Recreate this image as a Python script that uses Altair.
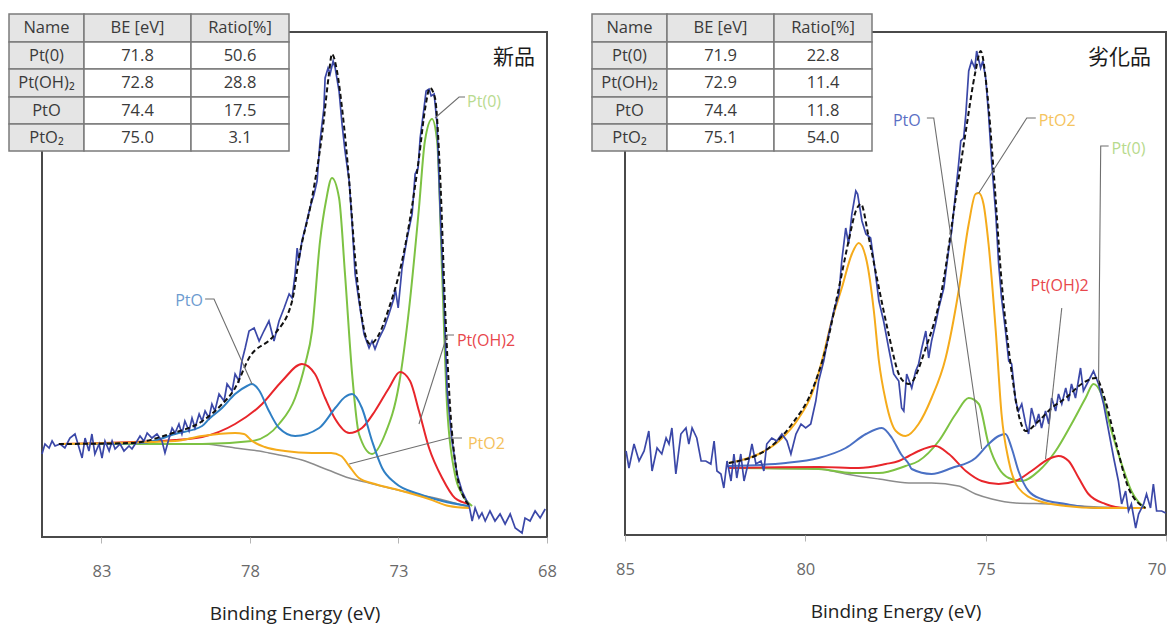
import altair as alt
import pandas as pd

# ---------------- table values ----------------
TABLE_HEADERS = ["Name", "BE [eV]", "Ratio[%]"]
SPECIES = ["Pt(0)", "Pt(OH)₂", "PtO", "PtO₂"]
NEW_BE = [71.8, 72.8, 74.4, 75.0]
NEW_RATIO = [50.6, 28.8, 17.5, 3.1]
OLD_BE = [71.9, 72.9, 74.4, 75.1]
OLD_RATIO = [22.8, 11.4, 11.8, 54.0]

NEW_TICKS = [83, 78, 73, 68]
OLD_TICKS = [85, 80, 75, 70]

# ---------------- 新品 (fresh) : (binding energy eV, intensity a.u.) ----------------
NEW_RAW = [
    (85.00, 84), (84.90, 94), (84.76, 90), (84.66, 97), (84.56, 92), (84.39, 94), (84.23, 90), (84.06, 100), (83.89, 104), (83.75, 90),
    (83.65, 80), (83.55, 100), (83.42, 87), (83.32, 104), (83.22, 84), (83.08, 94), (82.98, 80), (82.88, 97), (82.74, 87), (82.64, 97),
    (82.54, 89), (82.37, 94), (82.24, 87), (82.07, 92), (81.97, 89), (81.80, 97), (81.70, 102), (81.57, 97), (81.46, 105), (81.30, 100),
    (81.13, 104), (80.96, 97), (80.86, 85), (80.72, 100), (80.62, 110), (80.52, 105), (80.39, 114), (80.29, 104), (80.19, 117), (80.05, 107),
    (79.95, 120), (79.85, 110), (79.71, 124), (79.61, 117), (79.51, 127), (79.38, 120), (79.28, 134), (79.18, 127), (79.04, 144), (78.87, 137),
    (78.77, 154), (78.60, 147), (78.50, 164), (78.37, 157), (78.27, 177), (78.16, 190), (78.03, 207), (77.86, 210), (77.69, 197), (77.53, 207),
    (77.36, 217), (77.19, 197), (77.02, 217), (76.85, 230), (76.68, 244), (76.58, 240), (76.48, 264), (76.41, 290), (76.35, 277), (76.25, 297),
    (76.14, 310), (75.98, 330), (75.84, 344), (75.74, 357), (75.64, 397), (75.51, 430), (75.47, 460), (75.37, 470), (75.30, 464), (75.20, 477),
    (75.13, 470), (75.00, 447), (74.90, 414), (74.80, 387), (74.66, 357), (74.56, 314), (74.46, 264), (74.33, 237), (74.16, 204), (73.99, 190),
    (73.89, 197), (73.79, 189), (73.65, 200), (73.48, 210), (73.32, 224), (73.15, 240), (73.11, 250), (73.01, 230), (72.88, 270), (72.71, 300),
    (72.54, 324), (72.44, 364), (72.34, 370), (72.27, 400), (72.14, 430), (72.07, 447), (71.97, 449), (71.90, 442), (71.80, 444), (71.70, 414),
    (71.60, 330), (71.46, 230), (71.36, 147), (71.20, 97), (71.03, 64), (70.86, 47), (70.62, 32), (70.52, 17), (70.42, 30), (70.29, 20),
    (70.19, 25), (70.08, 17), (69.92, 27), (69.75, 17), (69.58, 24), (69.41, 14), (69.24, 24), (69.07, 10), (68.84, 5), (68.74, 20),
    (68.57, 17), (68.40, 27), (68.23, 20), (68.06, 29),
]
NEW_ENV = [
    (84.43, 94), (82.00, 95), (80.70, 104), (79.60, 117), (79.00, 132), (78.50, 150), (78.03, 180), (77.16, 204), (76.58, 237),
    (76.35, 280), (75.91, 340), (75.57, 404), (75.34, 464), (75.24, 484), (75.07, 467), (74.90, 430), (74.66, 357), (74.46, 280),
    (74.23, 220), (73.96, 194), (73.65, 204), (73.32, 230), (72.98, 264), (72.64, 314), (72.31, 380), (72.10, 430), (71.94, 450),
    (71.77, 440), (71.60, 364), (71.43, 230), (71.26, 130), (71.03, 64), (70.79, 40), (70.59, 32),
]
NEW_BG = [
    (84.43, 94), (79.60, 94), (78.94, 92), (78.50, 90), (77.69, 87), (77.36, 85), (76.25, 78), (75.37, 68), (74.66, 60),
    (73.99, 55), (72.88, 47), (71.77, 40), (70.62, 31),
]
NEW_PT0 = [
    (84.43, 94), (79.61, 94), (77.93, 97), (77.02, 114), (76.48, 140), (76.14, 174), (75.91, 207), (75.64, 297), (75.44, 337),
    (75.24, 360), (75.00, 340), (74.80, 264), (74.56, 164), (74.33, 104), (73.89, 84), (73.45, 104), (72.98, 154), (72.64, 230),
    (72.31, 330), (72.11, 397), (71.87, 419), (71.70, 397), (71.53, 264), (71.36, 130), (71.10, 64), (70.86, 44), (70.52, 32),
]
NEW_PTOH2 = [
    (84.43, 94), (80.52, 98), (79.61, 101), (78.50, 114), (77.59, 134), (76.92, 157), (76.25, 174), (75.81, 164), (75.47, 140),
    (75.13, 119), (74.66, 105), (74.23, 110), (73.79, 127), (73.32, 150), (72.95, 166), (72.61, 157), (72.31, 127), (71.97, 90),
    (71.53, 60), (71.10, 40), (70.62, 34),
]
NEW_PTO = [
    (84.43, 94), (81.63, 95), (80.52, 104), (79.61, 112), (79.38, 119), (78.94, 130), (78.50, 144), (78.10, 152), (77.93, 154),
    (77.70, 148), (77.36, 127), (77.02, 110), (76.48, 102), (75.67, 110), (75.13, 130), (74.80, 141), (74.56, 144), (74.23, 130),
    (73.89, 97), (73.55, 70), (73.11, 55), (72.31, 44), (71.53, 37), (70.62, 32),
]
NEW_PTO2 = [
    (84.43, 94), (80.52, 97), (79.61, 102), (78.50, 105), (78.20, 104), (77.93, 97), (77.50, 91), (76.82, 87), (75.91, 85),
    (75.27, 85), (74.93, 82), (74.66, 72), (74.33, 60), (73.79, 54), (72.88, 47), (71.97, 39), (71.30, 32), (70.62, 30),
]

# ---------------- 劣化品 (degraded) ----------------
OLD_RAW = [
    (84.97, 84), (84.89, 67), (84.75, 91), (84.61, 74), (84.47, 84), (84.34, 104), (84.25, 64), (84.11, 87), (83.98, 81), (83.86, 97),
    (83.78, 91), (83.70, 107), (83.59, 61), (83.45, 101), (83.31, 107), (83.23, 91), (83.14, 107), (83.01, 97), (82.89, 74), (82.76, 74),
    (82.62, 71), (82.53, 94), (82.45, 64), (82.34, 61), (82.26, 47), (82.17, 74), (82.06, 54), (81.98, 81), (81.90, 57), (81.79, 81),
    (81.70, 54), (81.57, 74), (81.48, 91), (81.37, 71), (81.23, 74), (81.15, 64), (81.07, 91), (80.93, 97), (80.79, 94), (80.65, 101),
    (80.51, 94), (80.40, 81), (80.26, 101), (80.12, 111), (79.99, 107), (79.85, 111), (79.71, 134), (79.63, 154), (79.49, 174), (79.35, 201),
    (79.21, 224), (79.07, 241), (78.99, 274), (78.88, 307), (78.80, 291), (78.71, 321), (78.60, 344), (78.55, 341), (78.43, 314), (78.32, 301),
    (78.19, 297), (78.10, 274), (77.96, 234), (77.83, 214), (77.69, 187), (77.55, 161), (77.41, 154), (77.33, 127), (77.27, 124), (77.19, 161),
    (77.05, 147), (76.94, 164), (76.86, 171), (76.77, 187), (76.66, 204), (76.58, 177), (76.50, 194), (76.39, 211), (76.30, 227), (76.16, 247),
    (76.02, 287), (75.94, 304), (75.83, 344), (75.75, 371), (75.69, 394), (75.61, 397), (75.55, 421), (75.47, 464), (75.39, 474), (75.30, 467),
    (75.25, 484), (75.14, 467), (75.08, 474), (75.00, 457), (74.92, 421), (74.83, 371), (74.72, 321), (74.64, 271), (74.56, 237), (74.45, 204),
    (74.36, 174), (74.28, 171), (74.17, 134), (74.09, 124), (74.00, 131), (73.89, 111), (73.81, 101), (73.73, 127), (73.61, 111), (73.53, 121),
    (73.45, 107), (73.34, 124), (73.25, 111), (73.17, 137), (73.06, 124), (72.98, 141), (72.89, 131), (72.78, 147), (72.70, 134), (72.62, 151),
    (72.51, 137), (72.37, 167), (72.29, 144), (72.15, 154), (72.01, 164), (71.87, 151), (71.73, 131), (71.59, 104), (71.45, 77), (71.32, 54),
    (71.23, 31), (71.12, 44), (71.04, 24), (70.96, 31), (70.84, 7), (70.76, 21), (70.62, 31), (70.54, 41), (70.43, 27), (70.35, 51),
    (70.26, 24), (70.12, 24), (70.01, 22),
]
OLD_ENV = [
    (82.12, 72), (81.01, 87), (80.37, 111), (79.82, 144), (79.43, 187), (79.07, 247), (78.80, 294), (78.60, 324), (78.46, 331),
    (78.24, 297), (77.96, 247), (77.69, 201), (77.41, 161), (77.22, 152), (77.13, 151), (76.66, 187), (76.22, 244), (75.83, 337),
    (75.55, 404), (75.28, 464), (75.14, 484), (74.97, 447), (74.78, 364), (74.56, 254), (74.31, 171), (74.09, 121), (73.89, 104),
    (73.53, 114), (73.17, 127), (72.78, 137), (72.34, 151), (71.95, 157), (71.68, 134), (71.40, 94), (71.04, 47), (70.57, 27),
]
OLD_BG = [
    (82.12, 67), (79.63, 66), (78.88, 61), (77.96, 56), (77.13, 52), (76.50, 52), (75.75, 49), (75.28, 41), (74.83, 36),
    (74.17, 32), (73.25, 31), (71.87, 28), (70.57, 27),
]
OLD_PT0 = [
    (82.12, 67), (79.63, 66), (78.71, 62), (77.96, 62), (77.22, 69), (76.86, 74), (76.30, 94), (75.83, 121), (75.47, 137),
    (75.19, 131), (74.92, 91), (74.64, 67), (74.36, 57), (74.00, 54), (73.53, 64), (73.06, 84), (72.62, 111), (72.23, 137),
    (72.01, 151), (71.79, 141), (71.51, 104), (71.23, 71), (70.96, 44), (70.57, 27),
]
OLD_PTOH2 = [
    (82.12, 67), (79.63, 68), (78.52, 67), (77.77, 71), (77.41, 74), (77.13, 79), (76.86, 84), (76.39, 89), (76.02, 81),
    (75.55, 64), (75.11, 54), (74.64, 51), (74.17, 54), (73.73, 64), (73.25, 76), (72.98, 79), (72.70, 74), (72.42, 57),
    (72.15, 41), (71.68, 31), (71.12, 27), (70.57, 27),
]
OLD_PTO = [
    (82.12, 69), (80.54, 72), (79.63, 77), (78.88, 87), (78.32, 101), (77.88, 107), (77.60, 97), (77.35, 81), (77.13, 71),
    (77.05, 66), (76.50, 61), (75.94, 67), (75.28, 77), (74.92, 91), (74.64, 99), (74.45, 101), (74.28, 87), (74.09, 64),
    (73.81, 44), (73.45, 36), (72.78, 31), (71.87, 27), (70.57, 27),
]
OLD_PTO2 = [
    (82.12, 72), (81.29, 81), (80.73, 94), (80.18, 117), (79.82, 141), (79.54, 174), (79.27, 214), (78.99, 247), (78.71, 281),
    (78.52, 292), (78.30, 274), (78.10, 224), (77.96, 174), (77.77, 134), (77.49, 104), (77.22, 99), (76.86, 111), (76.50, 137),
    (76.11, 177), (75.75, 244), (75.47, 311), (75.28, 341), (75.19, 342), (75.06, 331), (74.92, 291), (74.72, 204), (74.56, 121),
    (74.36, 74), (74.09, 47), (73.53, 34), (72.78, 29), (71.87, 27), (70.96, 27), (70.57, 27),
]

# ---------------- annotations (label anchor in data units, leader polyline) ----------------
NEW_LABELS = [
    ("PtO", 79.58, 237, "right", "#6d9bd0", [(79.51, 239), (79.21, 239), (77.93, 154)]),
    ("Pt(0)", 70.69, 436, "left", "#b9db90", [(71.77, 420), (70.96, 441), (70.76, 441)]),
    ("Pt(OH)2", 71.03, 197, "left", "#e8474c", [(71.13, 203), (71.36, 203), (72.31, 114)]),
    ("PtO2", 70.66, 94, "left", "#f4c15c", [(70.86, 100), (71.30, 100), (74.66, 74)]),
]
OLD_LABELS = [
    ("PtO", 76.80, 414, "right", "#5b6fc4", [(76.63, 417), (76.44, 417), (75.11, 86)]),
    ("PtO2", 73.53, 414, "left", "#f5c45e", [(73.61, 417), (73.86, 417), (75.19, 342)]),
    ("Pt(0)", 71.51, 386, "left", "#b7da8c", [(71.59, 389), (71.81, 389), (71.87, 152)]),
    ("Pt(OH)2", 72.95, 249, "center", "#e8474c", [(72.89, 227), (73.34, 76)]),
]

# ---------------- layout / style constants ----------------
FONT = "Open Sans"
CJK = "Noto Sans CJK JP"
TABLE_COLS = [0, 75, 182, 280]
TABLE_ROWS = [0, 28, 55, 83, 110, 137]


def xy_df(pairs):
    be, inten = zip(*pairs)
    return pd.DataFrame({"be": list(be), "i": list(inten), "k": list(range(len(be)))})


def table_layers(be_vals, ratio_vals, dx, dy):
    rows = [TABLE_HEADERS] + [[n, f"{b:.1f}", f"{r:.1f}"] for n, b, r in zip(SPECIES, be_vals, ratio_vals)]
    cells = []
    for r, row in enumerate(rows):
        for c, txt in enumerate(row):
            x0, x1 = dx + TABLE_COLS[c], dx + TABLE_COLS[c + 1]
            y0, y1 = dy + TABLE_ROWS[r], dy + TABLE_ROWS[r + 1]
            cells.append(dict(x0=x0, x1=x1, y0=y0, y1=y1, xc=(x0 + x1) / 2, yc=(y0 + y1) / 2,
                              t=txt, shaded=(r == 0 or c == 0)))
    df = pd.DataFrame(cells)
    rect = alt.Chart(df).mark_rect(stroke="#7b7b7b", strokeWidth=1.5).encode(
        x=alt.X("x0:Q", scale=None), x2="x1:Q",
        y=alt.Y("y0:Q", scale=None), y2="y1:Q",
        fill=alt.condition("datum.shaded", alt.value("#e5e5e5"), alt.value("#ffffff")),
    )
    text = alt.Chart(df).mark_text(font=FONT, fontSize=16.5, color="#3a3a3a", baseline="middle", align="center").encode(
        x=alt.X("xc:Q", scale=None), y=alt.Y("yc:Q", scale=None), text="t:N")
    return [rect, text]


def panel(raw, env, bg, comps, labels, title, title_xy, be_dom, i_dom, ticks, width, height,
          table_be, table_ratio, table_offset, flush_last=False):
    xs = alt.Scale(domain=be_dom, reverse=True, nice=False, zero=False)
    ys = alt.Scale(domain=i_dom, nice=False, zero=False)
    axis_kw = dict(values=ticks, format="d", domain=False, grid=False, tickSize=6, tickColor="#b5b5b5",
                   tickWidth=1, labelPadding=20, labelFontSize=16.5, labelColor="#6a6a6a", labelFont=FONT,
                   labelFlush=False, titleFont=FONT, titleFontSize=19, titleFontWeight="normal",
                   titleColor="#222222", titlePadding=25)
    if flush_last:
        axis_kw["labelAlign"] = {"condition": {"test": f"datum.value == {ticks[-1]}", "value": "right"},
                                 "value": "center"}
    xax = alt.Axis(**axis_kw)

    def X():
        return alt.X("be:Q", scale=xs, axis=xax, title="Binding Energy (eV)")

    def Y():
        return alt.Y("i:Q", scale=ys, axis=None)

    def line(pairs, color, w, dash=None, interp="monotone"):
        kw = dict(color=color, strokeWidth=w, interpolate=interp)
        if dash is not None:
            kw["strokeDash"] = dash
        return alt.Chart(xy_df(pairs)).mark_line(**kw).encode(x=X(), y=Y(), order="k:Q")

    layers = [line(bg, "#8c8c8c", 1.5)]
    for pairs, color in comps:
        layers.append(line(pairs, color, 2))
    layers.append(line(raw, "#3b48a8", 1.7, interp="linear"))
    layers.append(line(env, "#111111", 2, dash=[5, 3]))
    for txt, lx, ly, align, color, leader in labels:
        layers.append(line(leader, "#6f6f6f", 1.1, interp="linear"))
        layers.append(alt.Chart(pd.DataFrame({"be": [lx], "i": [ly], "t": [txt]})).mark_text(
            font=FONT, fontSize=16, color=color, align=align, baseline="middle").encode(x=X(), y=Y(), text="t:N"))
    layers += table_layers(table_be, table_ratio, *table_offset)
    layers.append(alt.Chart(pd.DataFrame({"t": [title]})).mark_text(
        font=CJK, fontSize=21, color="#1a1a1a", align="right", baseline="middle").encode(
        x=alt.value(title_xy[0]), y=alt.value(title_xy[1]), text="t:N"))
    return alt.layer(*layers).properties(width=width, height=height)


left = panel(NEW_RAW, NEW_ENV, NEW_BG,
             [(NEW_PT0, "#7dc243"), (NEW_PTOH2, "#e8262b"), (NEW_PTO, "#2f7fc4"), (NEW_PTO2, "#f5ab1b")],
             NEW_LABELS, "新品", (493, 26), [68, 85], [1, 506], NEW_TICKS, 505, 505,
             NEW_BE, NEW_RATIO, (-33, -18))
right = panel(OLD_RAW, OLD_ENV, OLD_BG,
              [(OLD_PT0, "#7dc243"), (OLD_PTOH2, "#e8262b"), (OLD_PTO, "#4a70c4"), (OLD_PTO2, "#f5ab1b")],
              OLD_LABELS, "劣化品", (526, 26), [70, 85], [0, 503], OLD_TICKS, 541, 503,
              OLD_BE, OLD_RATIO, (-33, -18), flush_last=True)

chart = alt.hconcat(left, right, spacing=32).properties(
    padding={"left": 7, "top": 12, "right": 0, "bottom": 0},
    background="white",
).configure_view(stroke="#4a4a4a", strokeWidth=2)

chart.save("out.html", embed_options={"renderer": "svg", "actions": False})
